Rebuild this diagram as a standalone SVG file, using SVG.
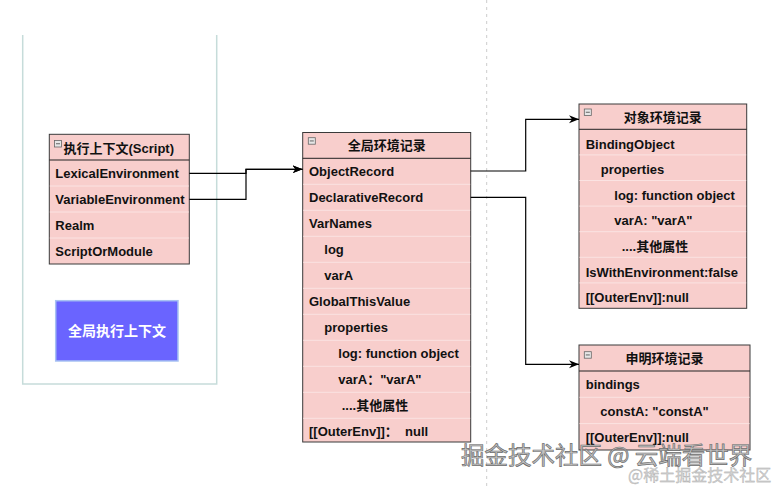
<svg xmlns="http://www.w3.org/2000/svg" width="780" height="487" viewBox="0 0 780 487">
<style>
.t{font-family:"Liberation Sans","Noto Sans CJK SC",sans-serif;font-size:13px;font-weight:bold;fill:#111;white-space:pre}
.h{text-anchor:middle}
.box{fill:#f8cecc;stroke:#3a3a3a;stroke-width:1}
.sep{stroke:#fbe3e2;stroke-width:1}
.hs{stroke:#222;stroke-width:1}
.ic{fill:#e6e6e6;stroke:#666;stroke-width:0.8}
.icm{stroke:#444;stroke-width:0.8}
.edge{fill:none;stroke:#000;stroke-width:1.2}
</style>
<defs>
<marker id="arr" markerUnits="userSpaceOnUse" markerWidth="11" markerHeight="9" refX="10" refY="4" orient="auto">
<path d="M0,0 L10,4 L0,8 L3,4 Z" fill="#000"/>
</marker>
<g id="minus"><rect class="ic" x="0" y="0" width="7" height="6.5"/><line class="icm" x1="1.5" y1="3.25" x2="5.5" y2="3.25"/></g>
</defs>
<rect width="780" height="487" fill="#fff"/>
<line x1="486.7" y1="0" x2="486.7" y2="487" stroke="#cccccc" stroke-width="1" stroke-dasharray="3,4"/>
<g id="frame">
<path d="M22.7,35 V384 H216.7 V35" fill="none" stroke="#c6dcda" stroke-width="1.5"/>
</g>
<g id="exec-context">
<rect class="box" x="49.3" y="134.3" width="140" height="129.7"/>
<line class="hs" x1="49.3" y1="160" x2="189.3" y2="160"/>
<line class="sep" x1="49.8" y1="186" x2="188.8" y2="186"/>
<line class="sep" x1="49.8" y1="212" x2="188.8" y2="212"/>
<line class="sep" x1="49.8" y1="238" x2="188.8" y2="238"/>
<use href="#minus" x="54.5" y="140.5"/>
<text class="t" x="63.5" y="153">执行上下文(Script)</text>
<text class="t" x="55.3" y="178">LexicalEnvironment</text>
<text class="t" x="55.3" y="204">VariableEnvironment</text>
<text class="t" x="55.3" y="230">Realm</text>
<text class="t" x="55.3" y="256">ScriptOrModule</text>
</g>
<g id="global-exec-context">
<rect x="55.7" y="300.7" width="122.3" height="60.3" fill="#6a64ff" stroke="#a8c2f2" stroke-width="1.5"/>
<text class="t h" x="117" y="336" style="fill:#fff;font-size:14px">全局执行上下文</text>
</g>
<g id="global-env-record">
<rect class="box" x="302.7" y="132.5" width="168" height="309.5"/>
<line class="hs" x1="302.7" y1="158.3" x2="470.7" y2="158.3"/>
<line class="sep" x1="303.2" y1="184.3" x2="470.2" y2="184.3"/>
<line class="sep" x1="303.2" y1="210.3" x2="470.2" y2="210.3"/>
<line class="sep" x1="303.2" y1="236.3" x2="470.2" y2="236.3"/>
<line class="sep" x1="303.2" y1="262.3" x2="470.2" y2="262.3"/>
<line class="sep" x1="303.2" y1="288.3" x2="470.2" y2="288.3"/>
<line class="sep" x1="303.2" y1="314.3" x2="470.2" y2="314.3"/>
<line class="sep" x1="303.2" y1="340.3" x2="470.2" y2="340.3"/>
<line class="sep" x1="303.2" y1="366.3" x2="470.2" y2="366.3"/>
<line class="sep" x1="303.2" y1="392.3" x2="470.2" y2="392.3"/>
<line class="sep" x1="303.2" y1="418.3" x2="470.2" y2="418.3"/>
<use href="#minus" x="308.3" y="137.7"/>
<text class="t h" x="386.7" y="150">全局环境记录</text>
<text class="t" x="309" y="176.3">ObjectRecord</text>
<text class="t" x="309" y="202.3">DeclarativeRecord</text>
<text class="t" x="309" y="228.3">VarNames</text>
<text class="t" x="324.3" y="254.3">log</text>
<text class="t" x="324.3" y="280.3">varA</text>
<text class="t" x="309" y="306.3">GlobalThisValue</text>
<text class="t" x="324.3" y="332.3">properties</text>
<text class="t" x="338.3" y="358.3">log: function object</text>
<text class="t" x="338.3" y="384.3">varA：&quot;varA&quot;</text>
<text class="t" x="341.7" y="410.3">....其他属性</text>
<text class="t" x="309" y="436">[[OuterEnv]]：  null</text>
</g>
<g id="object-env-record">
<rect class="box" x="579" y="104" width="167.7" height="204.3"/>
<line class="hs" x1="579" y1="129.3" x2="746.7" y2="129.3"/>
<line class="sep" x1="579.5" y1="154.9" x2="746.2" y2="154.9"/>
<line class="sep" x1="579.5" y1="180.5" x2="746.2" y2="180.5"/>
<line class="sep" x1="579.5" y1="206.1" x2="746.2" y2="206.1"/>
<line class="sep" x1="579.5" y1="231.7" x2="746.2" y2="231.7"/>
<line class="sep" x1="579.5" y1="257.3" x2="746.2" y2="257.3"/>
<line class="sep" x1="579.5" y1="282.9" x2="746.2" y2="282.9"/>
<use href="#minus" x="584.3" y="109"/>
<text class="t h" x="662.8" y="121.5">对象环境记录</text>
<text class="t" x="585.7" y="148.6">BindingObject</text>
<text class="t" x="600.7" y="174.2">properties</text>
<text class="t" x="614.3" y="199.8">log: function object</text>
<text class="t" x="614.3" y="225.4">varA: &quot;varA&quot;</text>
<text class="t" x="621.7" y="251">....其他属性</text>
<text class="t" x="585.7" y="276.6">IsWithEnvironment:false</text>
<text class="t" x="585.7" y="302.2">[[OuterEnv]]:null</text>
</g>
<g id="declarative-env-record">
<rect class="box" x="579" y="345" width="171" height="105"/>
<line class="hs" x1="579" y1="371" x2="750" y2="371"/>
<line class="sep" x1="579.5" y1="397.3" x2="749.5" y2="397.3"/>
<line class="sep" x1="579.5" y1="423.6" x2="749.5" y2="423.6"/>
<use href="#minus" x="584.3" y="351.7"/>
<text class="t h" x="664.5" y="363">申明环境记录</text>
<text class="t" x="585.7" y="389.2">bindings</text>
<text class="t" x="600.3" y="415.5">constA: &quot;constA&quot;</text>
<text class="t" x="585.7" y="441.5">[[OuterEnv]]:null</text>
</g>
<g id="connectors">
<path class="edge" d="M189.3,173.3 H246 V169.3 H302.5" marker-end="url(#arr)"/>
<path class="edge" d="M189.3,199.3 H246 V169.3 H302.5" marker-end="url(#arr)"/>
<path class="edge" d="M470.7,171 H525.7 V119.3 H579" marker-end="url(#arr)"/>
<path class="edge" d="M470.7,197.3 H525.7 V364.3 H579" marker-end="url(#arr)"/>
</g>
<g id="watermark">
<text x="461" y="464" style="font-family:'Noto Sans CJK SC',sans-serif;font-size:23.5px;fill:#c4c4c4;stroke:#6e6e6e;stroke-width:0.7;white-space:pre">掘金技术社区 @ 云端看世界</text>
<text x="628" y="481" style="font-family:'Noto Sans CJK SC',sans-serif;font-size:16px;fill:#d0d0d0;stroke:#aaa;stroke-width:0.3">@稀土掘金技术社区</text>
</g>
</svg>
